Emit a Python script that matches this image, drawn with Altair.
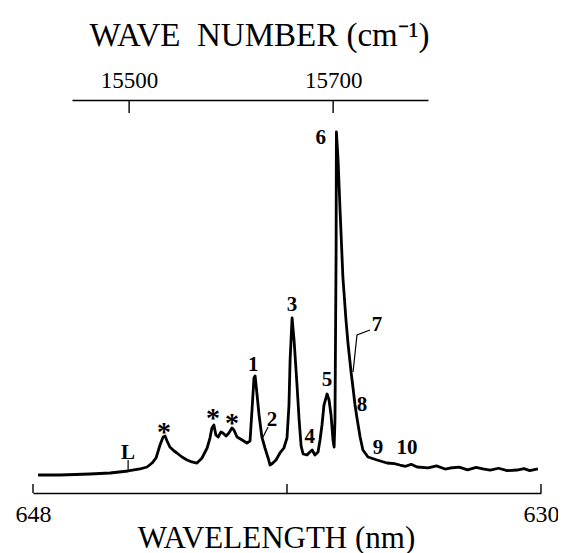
import altair as alt
import pandas as pd

# ---- spectrum (wavelength in nm, intensity in arbitrary units) ----
wavelength = [647.82, 647.04, 645.98, 645.27, 644.63, 644.21, 643.96, 643.78, 643.64, 643.50,
              643.39, 643.32, 643.25, 643.15, 643.00, 642.90, 642.72, 642.54, 642.37, 642.19,
              642.01, 641.83, 641.73, 641.66, 641.59, 641.52, 641.44, 641.34, 641.27, 641.16,
              641.06, 640.95, 640.88, 640.77, 640.59, 640.42, 640.31, 640.24, 640.17, 640.13,
              640.06, 639.99, 639.89, 639.78, 639.67, 639.60, 639.50, 639.39, 639.25, 639.11,
              639.00, 638.93, 638.89, 638.82, 638.75, 638.65, 638.57, 638.50, 638.43, 638.29,
              638.19, 638.11, 638.01, 637.90, 637.83, 637.76, 637.69, 637.58, 637.51, 637.44,
              637.37, 637.33, 637.30, 637.26, 637.25, 637.19, 637.12, 637.02, 636.91, 636.84,
              636.73, 636.66, 636.59, 636.52, 636.41, 636.31, 636.13, 635.81, 635.46, 635.20,
              635.00, 634.80, 634.60, 634.39, 634.00, 633.70, 633.40, 633.22, 632.90, 632.60,
              632.30, 632.06, 631.80, 631.50, 631.20, 630.85, 630.60, 630.40, 630.11]
intensity = [4.58, 4.58, 4.83, 5.09, 5.60, 6.11, 6.62, 7.63, 8.91, 12.21,
             14.25, 14.50, 13.23, 11.70, 10.69, 10.18, 9.16, 8.40, 7.89, 7.63,
             8.91, 11.45, 13.99, 16.54, 17.30, 14.76, 14.25, 15.52, 15.27, 14.50,
             15.27, 16.54, 16.03, 14.25, 13.49, 12.72, 13.23, 21.12, 29.26, 29.77,
             24.94, 19.85, 14.25, 11.45, 8.91, 7.12, 7.63, 8.40, 10.18, 11.45,
             13.99, 22.39, 33.84, 44.53, 38.93, 27.99, 18.58, 11.96, 9.92, 9.67,
             10.43, 10.94, 9.67, 10.43, 13.49, 17.30, 22.39, 25.19, 23.66, 19.85,
             13.49, 11.70, 18.58, 61.83, 91.86, 84.73, 72.01, 54.96, 44.02, 38.17,
             30.79, 26.72, 22.39, 19.08, 14.25, 10.94, 9.16, 8.40, 7.63, 7.50,
             7.12, 6.80, 7.30, 6.62, 6.40, 6.90, 6.10, 6.36, 6.60, 5.90,
             6.50, 6.11, 5.80, 6.30, 5.70, 5.85, 6.20, 5.70, 6.11]

# ---- peak labels ----
label_text = ["1", "2", "3", "4", "5", "6", "7", "8", "9", "10", "L"]
label_wl = [640.20, 639.53, 638.82, 638.19, 637.58, 637.80,
            635.81, 636.34, 635.78, 634.75, 644.63]
label_int = [32.57, 18.58, 47.84, 14.25, 28.75, 90.33,
             42.75, 22.39, 11.45, 11.45, 10.18]

# ---- unassigned-band markers ----
star_wl = [643.36, 641.62, 640.95]
star_int = [15.2, 18.8, 17.5]

# ---- leader lines ----
leader_grp = ["2", "2", "7", "7", "7", "L", "L"]
leader_wl = [639.67, 639.85, 636.06, 636.52, 636.66, 644.63, 644.63]
leader_int = [16.79, 14.25, 41.48, 40.20, 30.79, 8.40, 5.34]
leader_ord = [0, 1, 0, 1, 2, 0, 1]

# ---- axes ----
bottom_ticks = [648, 639, 630]
bottom_labels = [648, 630]
wl_domain = [648, 630]
top_ticks = [15500, 15700]
wn_domain = [15444, 15793]

FONT = "Liberation Serif"
W, H = 508, 393

curve_df = pd.DataFrame({"wavelength": wavelength, "intensity": intensity})
label_df = pd.DataFrame({"wavelength": label_wl, "intensity": label_int, "label": label_text})
star_df = pd.DataFrame({"wavelength": star_wl, "intensity": star_int, "label": ["*"] * len(star_wl)})
leader_df = pd.DataFrame({"wavelength": leader_wl, "intensity": leader_int,
                          "grp": leader_grp, "ord": leader_ord})
btick_df = pd.DataFrame({"wavelength": bottom_ticks})
ttick_df = pd.DataFrame({"wn": top_ticks})

xs = alt.Scale(domain=wl_domain, nice=False, zero=False)
ys = alt.Scale(domain=[0, 100], nice=False, zero=False)

bottom_axis = alt.Axis(values=bottom_labels, format="d", ticks=False, grid=False,
                       domainColor="black", domainWidth=1.6,
                       labelFont=FONT, labelFontSize=24, labelColor="black",
                       labelPadding=9, labelBaseline="top", labelFlush=False,
                       title="WAVELENGTH (nm)", titleFont=FONT, titleFontSize=31,
                       titleFontWeight="normal", titleColor="black",
                       titleBaseline="alphabetic", titleY=54, titleX=243)

X = alt.X("wavelength:Q", scale=xs, axis=bottom_axis)
Y = alt.Y("intensity:Q", scale=ys, axis=None)

curve = alt.Chart(curve_df).mark_line(color="black", strokeWidth=2.8, strokeJoin="round").encode(
    x=X, y=Y)

labels = alt.Chart(label_df).mark_text(font=FONT, fontSize=21, fontWeight="bold",
                                       color="black", baseline="middle", align="center").encode(
    x=X, y=Y, text="label:N")

stars = alt.Chart(star_df).mark_text(font=FONT, fontSize=28, fontWeight="bold",
                                     color="black", baseline="middle", align="center").encode(
    x=X, y=Y, text="label:N")

leaders = alt.Chart(leader_df).mark_line(color="black", strokeWidth=1.2).encode(
    x=X, y=Y, detail="grp:N", order="ord:Q")

bticks = alt.Chart(btick_df).mark_rule(color="black", strokeWidth=1.4).encode(
    x=X, y=alt.value(H - 9), y2=alt.value(H))

main = alt.layer(curve, leaders, labels, stars, bticks)

top = alt.Chart(ttick_df).mark_rule(color="black", strokeWidth=1.4).encode(
    x=alt.X("wn:Q", scale=alt.Scale(domain=wn_domain, range=[39, 395], nice=False, zero=False),
            axis=alt.Axis(orient="top", values=top_ticks, format="d", ticks=False, grid=False,
                          domainColor="black", domainWidth=1.6,
                          labelFont=FONT, labelFontSize=23, labelColor="black",
                          labelPadding=8, labelFlush=False,
                          title="WAVE\u2002NUMBER (cm\u207b\u00b9)", titleFont=FONT,
                          titleFontSize=33, titleFontWeight="normal", titleColor="black",
                          titleBaseline="alphabetic", titleY=-55, titleX=226)),
    y=alt.value(0),
    y2=alt.value(13),
)

chart = alt.layer(main, top).resolve_scale(x="independent").properties(
    width=W, height=H,
    autosize=alt.AutoSizeParams(type="none"),
    padding={"left": 25, "top": 92, "right": 17, "bottom": 60},
    background="white",
).configure_view(stroke=None)

chart.save("out.html", embed_options={"renderer": "svg", "actions": False})
